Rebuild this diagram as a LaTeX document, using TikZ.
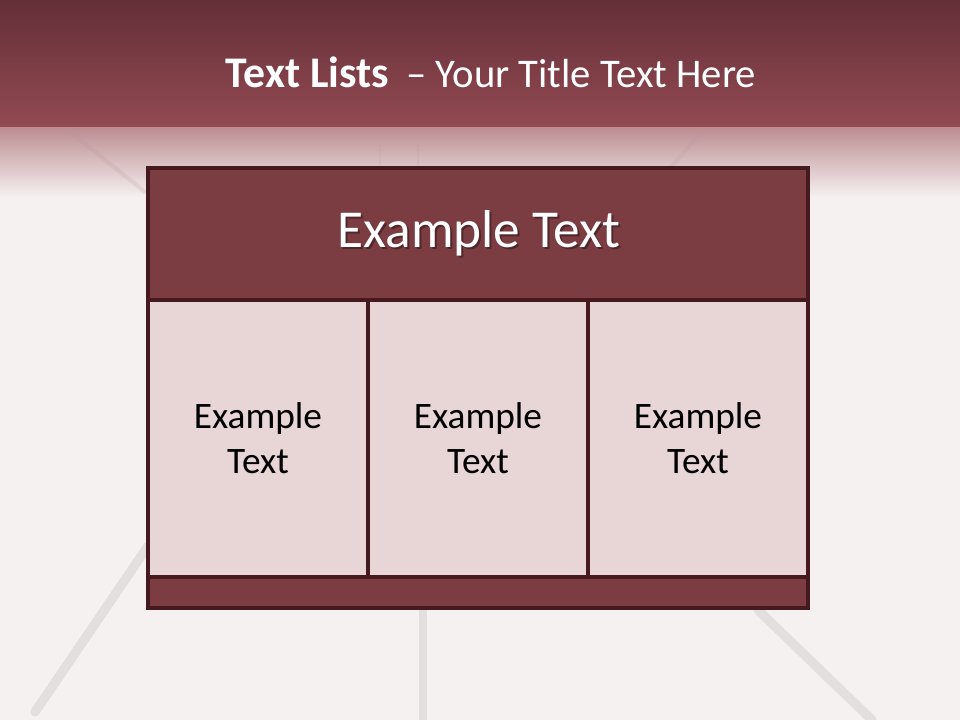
\documentclass[tikz,border=0pt]{standalone}
\usepackage{fontspec}
\setmainfont{Carlito}
\definecolor{bandtop}{HTML}{642F38}
\definecolor{bandbot}{HTML}{934A52}
\definecolor{fadetop}{HTML}{BC8E92}
\definecolor{bgc}{HTML}{F6F1F1}
\definecolor{hdr}{HTML}{7B3C42}
\definecolor{brd}{HTML}{45191E}
\definecolor{cellc}{HTML}{E8D5D6}
\definecolor{forkc}{HTML}{CFCACB}
\tikzset{
  fork/.style={forkc, line cap=round, opacity=0.45},
  frame/.style={brd, line width=2.3pt},
  celltext/.style={align=center, text=black, font=\fontsize{28}{33.6}\selectfont},
  hdrtext/.style={text=white, font=\fontsize{40}{48}\selectfont, anchor=base},
  shadowtext/.style={text=black, opacity=0.35, font=\fontsize{40}{48}\selectfont, anchor=base}
}
\begin{document}
\begin{tikzpicture}[x=0.75pt,y=-0.75pt]
\useasboundingbox (0,0) rectangle (960,720);
% background
\fill[bgc] (0,0) rectangle (960,720);
\shade[top color=bandtop, bottom color=bandbot] (0,0) rectangle (960,128);
\shade[top color=fadetop, bottom color=bgc] (0,128) rectangle (960,198);
% faint fork shapes
\draw[fork, line width=3pt, opacity=0.2, forkc!60!bandbot] (68,130) -- (145,192);
\draw[fork, line width=3pt, opacity=0.18, forkc!60!bandbot] (703,130) -- (655,186);
\draw[fork, line width=2pt, opacity=0.15, forkc!60!bandbot] (380,145) -- (380,165) (418,145) -- (418,165);
\draw[fork, line width=7pt] (148,546) -- (35,712);
\draw[fork, line width=6pt] (423,610) -- (423,720);
\draw[fork, line width=7pt] (758,610) -- (872,720);
% boxes
\coordinate (tl) at (148,168);
\coordinate (br) at (808,608);
\fill[hdr] (148,168) rectangle (808,300);
\fill[cellc] (148,300) rectangle (808,577);
\fill[hdr] (148,577) rectangle (808,608);
\draw[frame] (tl) rectangle (br);
\draw[frame] (148,300) -- (808,300);
\draw[frame] (148,577) -- (808,577);
\draw[frame] (368,300) -- (368,577);
\draw[frame] (588,300) -- (588,577);
% title
\node[text=white, anchor=base, font=\fontsize{30.5}{37}\selectfont] (title) at (491,88)
  {{\fontsize{32.8}{37}\selectfont\bfseries Text Lists}\hspace{13pt}– Your Title Text Here};
% header
\node[shadowtext] (hshadow) at (481,250) {Example Text};
\node[hdrtext] (header) at (479,248) {Example Text};
% cells
\node[celltext] (c1) at (258,438) {Example\\Text};
\node[celltext] (c2) at (478,438) {Example\\Text};
\node[celltext] (c3) at (698,438) {Example\\Text};
\end{tikzpicture}
\end{document}
